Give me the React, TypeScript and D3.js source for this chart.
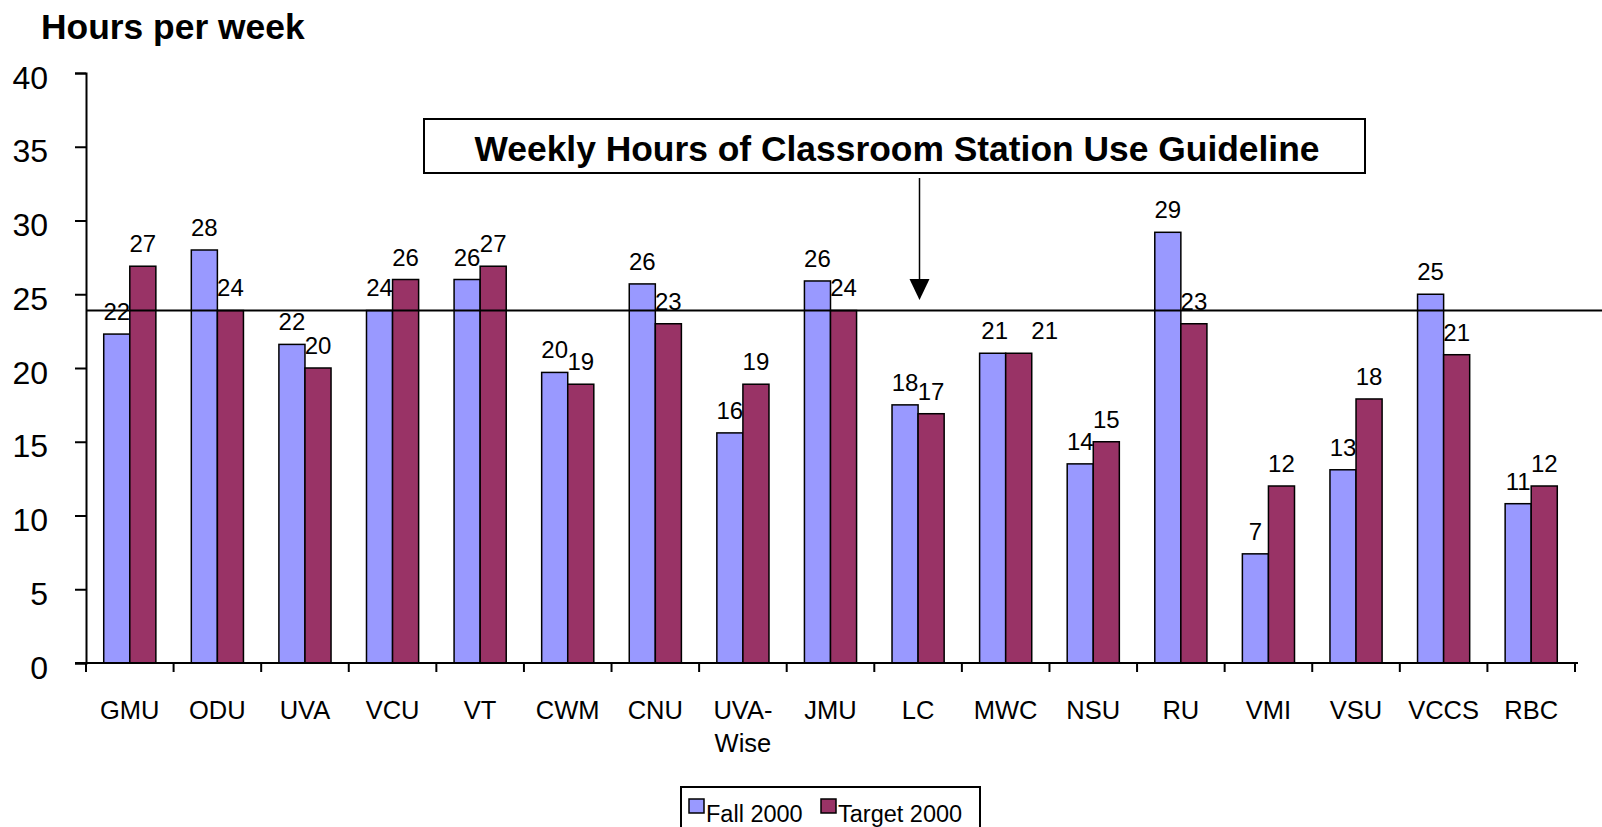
import React, { useEffect, useRef } from 'react';
import * as d3 from 'd3';

// schools along the x axis ("UVA-Wise" wraps onto two lines)
const schools = ['GMU', 'ODU', 'UVA', 'VCU', 'VT', 'CWM', 'CNU', 'UVA-Wise', 'JMU', 'LC', 'MWC', 'NSU', 'RU', 'VMI', 'VSU', 'VCCS', 'RBC'];
// hours per week
const fall2000 = [22.3, 28.0, 21.6, 23.9, 26.0, 19.7, 25.7, 15.6, 25.9, 17.5, 21.0, 13.5, 29.2, 7.4, 13.1, 25.0, 10.8];
const target2000 = [26.9, 23.9, 20.0, 26.0, 26.9, 18.9, 23.0, 18.9, 23.9, 16.9, 21.0, 15.0, 23.0, 12.0, 17.9, 20.9, 12.0];
const seriesNames = ['Fall 2000', 'Target 2000'];
const seriesColors = ['#9999FF', '#993366'];
const yTicks = [0, 5, 10, 15, 20, 25, 30, 35, 40];
const guideline = 23.9;

const W = 1602;
const H = 827;
const FONT = '"Liberation Sans", Arial, sans-serif';

export default function App() {
  const ref = useRef<SVGSVGElement>(null);

  useEffect(() => {
    const svg = d3.select(ref.current);
    svg.selectAll('*').remove();

    const x0 = d3.scaleBand().domain(schools).range([86, 1575]).padding(0);
    const x1 = d3.scaleBand().domain(seriesNames).range([0, x0.bandwidth()]).paddingInner(0).paddingOuter(0.68);
    const y = d3.scaleLinear().domain([0, 40]).range([663, 73]);

    // title
    svg.append('text')
      .attr('x', 41).attr('y', 39)
      .attr('font-family', FONT).attr('font-weight', 'bold').attr('font-size', 35.4)
      .text('Hours per week');

    // y axis
    const yAxis = svg.append('g')
      .attr('transform', 'translate(86,0)')
      .call(d3.axisLeft(y).tickValues(yTicks).tickSize(11).tickPadding(27).tickFormat(d3.format('d')));
    yAxis.select('.domain').attr('stroke', '#000').attr('stroke-width', 2);
    yAxis.selectAll('.tick line').attr('stroke', '#000').attr('stroke-width', 2);
    yAxis.selectAll('.tick text')
      .attr('font-family', FONT).attr('font-size', 32).attr('fill', '#000').attr('dy', '0.47em');

    // bars
    const data = schools.map((s, i) => ({ school: s, vals: [fall2000[i], target2000[i]] }));
    const groups = svg.append('g').selectAll('g')
      .data(data)
      .enter().append('g')
      .attr('transform', d => 'translate(' + x0(d.school) + ',0)');

    groups.selectAll('rect')
      .data(d => d.vals.map((v, k) => ({ key: seriesNames[k], v, k })))
      .enter().append('rect')
      .attr('x', d => x1(d.key)!)
      .attr('y', d => y(d.v))
      .attr('width', x1.bandwidth())
      .attr('height', d => y(0) - y(d.v))
      .attr('fill', d => seriesColors[d.k])
      .attr('stroke', '#000')
      .attr('stroke-width', 1.5);

    // x axis
    svg.append('line')
      .attr('x1', 75).attr('x2', 1578).attr('y1', y(0)).attr('y2', y(0))
      .attr('stroke', '#000').attr('stroke-width', 2);
    const bounds = schools.map(s => x0(s)!).concat([x0.range()[1]]);
    svg.append('g').selectAll('line')
      .data(bounds)
      .enter().append('line')
      .attr('x1', d => d).attr('x2', d => d)
      .attr('y1', y(0)).attr('y2', y(0) + 9)
      .attr('stroke', '#000').attr('stroke-width', 2);

    // category labels
    const labels = svg.append('g').selectAll('text')
      .data(schools)
      .enter().append('text')
      .attr('x', d => x0(d)! + x0.bandwidth() / 2)
      .attr('y', 719)
      .attr('text-anchor', 'middle')
      .attr('font-family', FONT).attr('font-size', 25.5);
    labels.each(function (d) {
      const parts = d.indexOf('-') >= 0 ? [d.split('-')[0] + '-', d.split('-')[1]] : [d];
      parts.forEach((p, j) => {
        d3.select(this).append('tspan')
          .attr('x', x0(d)! + x0.bandwidth() / 2)
          .attr('dy', j === 0 ? 0 : 32.5)
          .text(p);
      });
    });

    // guideline
    svg.append('line')
      .attr('x1', 86).attr('x2', W).attr('y1', y(guideline)).attr('y2', y(guideline))
      .attr('stroke', '#000').attr('stroke-width', 2);

    // value labels; when both labels sit at the same height, push them apart
    groups.selectAll('text')
      .data(d => d.vals.map((v, k) => {
        const clash = Math.abs(y(d.vals[0]) - y(d.vals[1])) < 4;
        return { key: seriesNames[k], v, nudge: clash ? (k === 0 ? 2 : 26) : 0 };
      }))
      .enter().append('text')
      .attr('x', d => x1(d.key)! + x1.bandwidth() / 2 + d.nudge)
      .attr('y', d => y(d.v) - 14)
      .attr('text-anchor', 'middle')
      .attr('font-family', FONT).attr('font-size', 24)
      .text(d => Math.round(d.v));

    // annotation box + arrow
    svg.append('rect')
      .attr('x', 424).attr('y', 119).attr('width', 941).attr('height', 54)
      .attr('fill', '#fff').attr('stroke', '#000').attr('stroke-width', 2);
    svg.append('text')
      .attr('x', 897).attr('y', 161)
      .attr('text-anchor', 'middle')
      .attr('font-family', FONT).attr('font-weight', 'bold').attr('font-size', 35.4)
      .text('Weekly Hours of Classroom Station Use Guideline');
    svg.append('line')
      .attr('x1', 919.5).attr('x2', 919.5).attr('y1', 178).attr('y2', 282)
      .attr('stroke', '#000').attr('stroke-width', 1.5);
    svg.append('path')
      .attr('d', 'M909.5,279 L929.5,279 L919.5,300 Z')
      .attr('fill', '#000');

    // legend
    svg.append('rect')
      .attr('x', 681).attr('y', 787).attr('width', 299).attr('height', 45)
      .attr('fill', '#fff').attr('stroke', '#000').attr('stroke-width', 2);
    const legendX = [689, 821];
    seriesNames.forEach((name, k) => {
      svg.append('rect')
        .attr('x', legendX[k]).attr('y', 799).attr('width', 15).attr('height', 14)
        .attr('fill', seriesColors[k]).attr('stroke', '#000').attr('stroke-width', 1.5);
      svg.append('text')
        .attr('x', legendX[k] + 17).attr('y', 822)
        .attr('font-family', FONT).attr('font-size', 23.5)
        .text(name);
    });
  }, []);

  return (
    <svg ref={ref} width={W} height={H} style={{ position: 'fixed', left: 0, top: 0, background: '#fff' }} />
  );
}
